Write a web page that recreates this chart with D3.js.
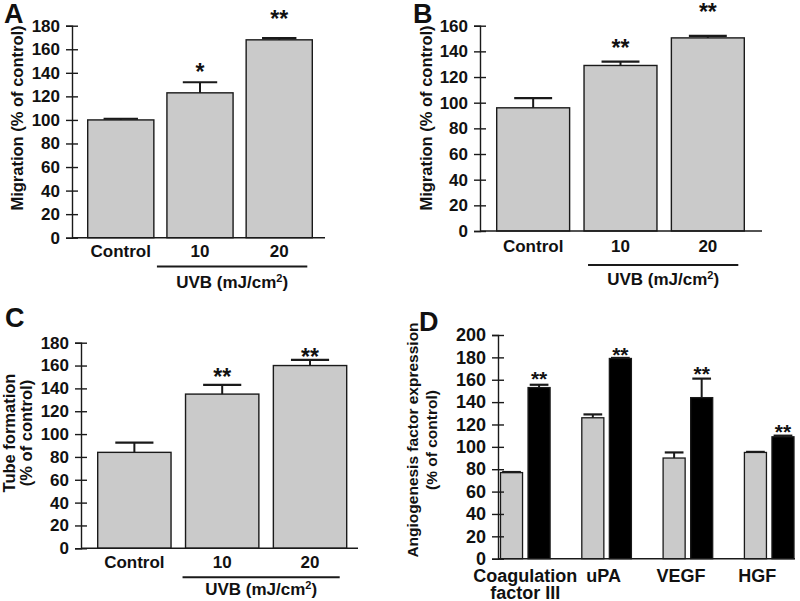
<!DOCTYPE html>
<html lang="en">
<head>
  <meta charset="UTF-8">
  <title>UVB angiogenesis panels</title>
  <style>
    body { margin: 0; background: #fff; }
    svg text { font-family: 'Liberation Sans', Arial, sans-serif; font-weight: bold; fill: #111; }
  </style>
</head>
<body>
  <svg width="800" height="601" class="svgs"></svg>
  <script src="https://cdn.jsdelivr.net/npm/d3@7/dist/d3.min.js"></script>
  <script>
    // panels A-C: control vs two UVB doses
    const doses = ['Control', '10', '20']
    const migrationA = [100, 123, 168]
    const migrationAErr = [1, 9, 1.5]
    const migrationASig = ['', '*', '**']
    const migrationAStarY = [null, 145, 190]
    const migrationB = [96, 129, 150.5]
    const migrationBErr = [7.5, 3, 1.5]
    const migrationBSig = ['', '**', '**']
    const migrationBStarY = [null, 146.5, 174.5]
    const tubeC = [84, 135, 160]
    const tubeCErr = [8.5, 8, 5]
    const tubeCSig = ['', '**', '**']
    const tubeCStarY = [null, 154.5, 172]
    const ticks180 = [0, 20, 40, 60, 80, 100, 120, 140, 160, 180]
    const ticks160 = [0, 20, 40, 60, 80, 100, 120, 140, 160]

    // panel D: angiogenesis factors, control (grey) vs UVB (black)
    const factors = ['Coagulation factor III', 'uPA', 'VEGF', 'HGF']
    const factorCtrl = [77, 126, 90, 95]
    const factorCtrlErr = [0.5, 3, 5, 0.5]
    const factorUvb = [153, 179, 144, 109]
    const factorUvbErr = [2.5, 0.5, 17, 1]
    const factorStarY = [165.5, 187, 170, 118]
    const ticks200 = [0, 20, 40, 60, 80, 100, 120, 140, 160, 180, 200]

    const mainsvg = d3.select('.svgs')
    const grey = '#cacaca'
    const ink = '#1a1a1a'

    function yAxis(axisX, y, ticks, fs) {
      const g = mainsvg.append('g')
        .attr('transform', `translate(${axisX},0)`)
        .call(d3.axisLeft(y).tickValues(ticks).tickSizeOuter(0).tickSize(6).tickPadding(6))
      g.selectAll('.tick line').attr('x1', 6).attr('stroke', ink).attr('stroke-width', 1.4)
      g.select('.domain').attr('stroke', ink).attr('stroke-width', 1.4)
      g.selectAll('.tick text')
        .attr('font-size', fs + 'px')
        .attr('fill', ink)
      g.attr('font-family', null).attr('font-size', null)
    }

    function errorBar(cx, capW, yTop, yBar, color) {
      mainsvg.append('line')
        .attr('x1', cx).attr('x2', cx).attr('y1', yBar).attr('y2', yTop)
        .attr('stroke', color).attr('stroke-width', 2)
      mainsvg.append('line')
        .attr('x1', cx - capW / 2).attr('x2', cx + capW / 2).attr('y1', yTop).attr('y2', yTop)
        .attr('stroke', color).attr('stroke-width', 2.2)
    }

    function star(cx, cy, txt, fs) {
      if (!txt) return
      mainsvg.append('text')
        .text(txt)
        .attr('x', cx)
        .attr('y', cy + fs * 0.58)
        .attr('text-anchor', 'middle')
        .attr('font-size', fs + 'px')
    }

    function letter(txt, x, y) {
      mainsvg.append('text').text(txt)
        .attr('x', x).attr('y', y)
        .attr('font-size', '27px')
    }

    function yLabel(lines, xs, cy, fs) {
      lines.forEach((l, i) => {
        mainsvg.append('text').text(l)
          .attr('transform', `translate(${xs[i]}, ${cy}) rotate(-90)`)
          .attr('text-anchor', 'middle')
          .attr('font-size', fs + 'px')
      })
    }

    function dosePanel(p) {
      const y = d3.scaleLinear().domain([0, p.max]).range([p.y0, p.yTop])
      const x = d3.scaleBand().domain(doses).range([p.barL, p.barR]).paddingInner(0.165)
      const bw = x.bandwidth()

      doses.forEach((d, i) => {
        mainsvg.append('rect')
          .attr('x', x(d))
          .attr('y', y(p.vals[i]))
          .attr('width', bw)
          .attr('height', p.y0 - y(p.vals[i]))
          .attr('fill', grey)
          .attr('stroke', ink)
          .attr('stroke-width', 1.4)
        errorBar(x(d) + bw / 2, bw * 0.52, y(p.vals[i] + p.errs[i]), y(p.vals[i]), ink)
        star(x(d) + bw / 2, y(p.starY[i] || 0), p.sig[i], 23)
        mainsvg.append('text').text(d)
          .attr('x', x(d) + bw / 2)
          .attr('y', p.catY)
          .attr('text-anchor', 'middle')
          .attr('font-size', '17px')
      })

      yAxis(p.axisX, y, p.ticks, 17)
      mainsvg.append('line')
        .attr('x1', p.axisX).attr('x2', p.axisEnd).attr('y1', p.y0).attr('y2', p.y0)
        .attr('stroke', ink).attr('stroke-width', 1.4)

      // UVB bracket under the two dose bars
      const ux1 = x('10') + p.ulIn
      const ux2 = x('20') + bw - p.ulOut
      mainsvg.append('line')
        .attr('x1', ux1).attr('x2', ux2).attr('y1', p.ulY).attr('y2', p.ulY)
        .attr('stroke', ink).attr('stroke-width', 2)
      const t = mainsvg.append('text')
        .attr('x', (ux1 + ux2) / 2)
        .attr('y', p.uvbY)
        .attr('text-anchor', 'middle')
        .attr('font-size', '17px')
      t.append('tspan').text('UVB (mJ/cm')
      t.append('tspan').text('2').attr('font-size', '11px').attr('dy', -6)
      t.append('tspan').text(')').attr('dy', 6)

      yLabel(p.label, p.labelX, p.labelY, 16.5)
      letter(p.letter, p.letterX, p.letterY)
    }

    dosePanel({
      letter: 'A', letterX: 4, letterY: 23,
      max: 180, ticks: ticks180, y0: 237.7, yTop: 25.7,
      axisX: 72, axisEnd: 325, barL: 87.7, barR: 312.3,
      vals: migrationA, errs: migrationAErr, sig: migrationASig, starY: migrationAStarY,
      catY: 257, ulY: 266.5, ulIn: -10, ulOut: 5, uvbY: 288,
      label: ['Migration (% of control)'], labelX: [23], labelY: 118
    })

    dosePanel({
      letter: 'B', letterX: 413, letterY: 23,
      max: 160, ticks: ticks160, y0: 231, yTop: 25.7,
      axisX: 480, axisEnd: 762, barL: 496.7, barR: 744.3,
      vals: migrationB, errs: migrationBErr, sig: migrationBSig, starY: migrationBStarY,
      catY: 252, ulY: 265, ulIn: 4, ulOut: 6, uvbY: 285,
      label: ['Migration (% of control)'], labelX: [432], labelY: 118
    })

    dosePanel({
      letter: 'C', letterX: 5, letterY: 327,
      max: 180, ticks: ticks180, y0: 548.3, yTop: 342.7,
      axisX: 81, axisEnd: 358, barL: 97.7, barR: 346.7,
      vals: tubeC, errs: tubeCErr, sig: tubeCSig, starY: tubeCStarY,
      catY: 568, ulY: 577.3, ulIn: -3, ulOut: 7, uvbY: 595,
      label: ['Tube formation', '(% of control)'], labelX: [15, 32], labelY: 433
    })

    // panel D
    const yD = d3.scaleLinear().domain([0, 200]).range([558.7, 335])
    const xD = d3.scaleBand().domain(factors).range([500.5, 794]).paddingInner(0.39)
    const xSub = d3.scaleBand().domain(['ctrl', 'uvb']).range([0, xD.bandwidth()]).paddingInner(0.2)
    const sbw = xSub.bandwidth()
    const labelShift = [0, -3, -7, -12]

    factors.forEach((f, i) => {
      const series = [
        {k: 'ctrl', v: factorCtrl[i], e: factorCtrlErr[i], fill: grey},
        {k: 'uvb', v: factorUvb[i], e: factorUvbErr[i], fill: '#000'}
      ]
      series.forEach(s => {
        const bx = xD(f) + xSub(s.k)
        mainsvg.append('rect')
          .attr('x', bx)
          .attr('y', yD(s.v))
          .attr('width', sbw)
          .attr('height', 558.7 - yD(s.v))
          .attr('fill', s.fill)
          .attr('stroke', ink)
          .attr('stroke-width', 1.3)
        errorBar(bx + sbw / 2, sbw * 0.85, yD(s.v + s.e), yD(s.v), ink)
      })
      star(xD(f) + xSub('uvb') + sbw / 2, yD(factorStarY[i]), '**', 21)

      const cx = xD(f) + xD.bandwidth() / 2 + labelShift[i]
      const words = f === 'Coagulation factor III' ? ['Coagulation', 'factor III'] : [f]
      words.forEach((w, j) => {
        mainsvg.append('text').text(w)
          .attr('x', cx)
          .attr('y', 582 + j * 16.5)
          .attr('text-anchor', 'middle')
          .attr('font-size', '18px')
      })
    })

    yAxis(498, yD, ticks200, 18)
    mainsvg.append('line')
      .attr('x1', 498).attr('x2', 795).attr('y1', 558.7).attr('y2', 558.7)
      .attr('stroke', ink).attr('stroke-width', 1.4)

    yLabel(['Angiogenesis factor expression', '(% of control)'], [418, 437], 440, 15.5)
    letter('D', 419, 331)
  </script>
</body>
</html>
